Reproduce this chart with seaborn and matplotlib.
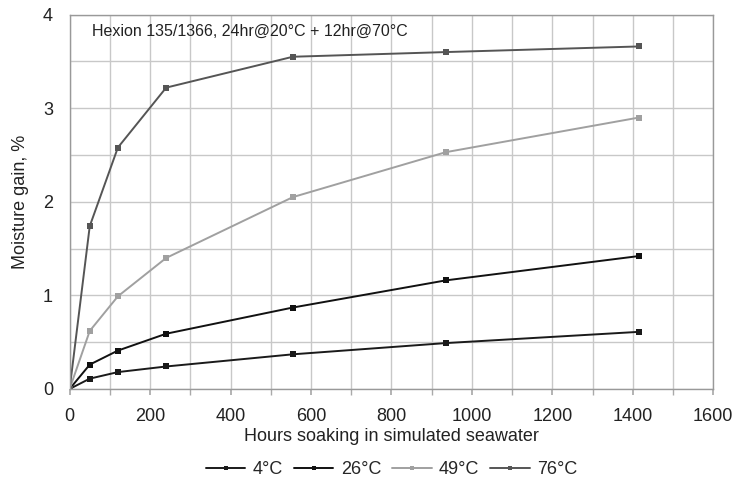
import matplotlib
matplotlib.use("Agg")
import matplotlib.pyplot as plt
import seaborn as sns
import pandas as pd
from matplotlib.ticker import MultipleLocator

hours = [0, 50, 120, 240, 555, 935, 1415]
series_names = ["4°C", "26°C", "49°C", "76°C"]
gain_4 = [0, 0.11, 0.18, 0.24, 0.37, 0.49, 0.61]
gain_26 = [0, 0.26, 0.41, 0.59, 0.87, 1.16, 1.42]
gain_49 = [0, 0.62, 0.99, 1.40, 2.05, 2.53, 2.90]
gain_76 = [0, 1.74, 2.58, 3.22, 3.55, 3.60, 3.66]
x_ticks = [0, 200, 400, 600, 800, 1000, 1200, 1400, 1600]
y_ticks = [0, 1, 2, 3, 4]

rows = []
for name, vals in zip(series_names, [gain_4, gain_26, gain_49, gain_76]):
    for h, v in zip(hours, vals):
        rows.append({"Hours": h, "Gain": v, "Series": name})
df = pd.DataFrame(rows)

sns.set_theme(style="white")
plt.rcParams['font.family'] = ['Liberation Sans', 'DejaVu Sans']

fig, ax = plt.subplots(figsize=(7.33, 4.88), dpi=100)
fig.subplots_adjust(left=0.095, right=0.973, top=0.97, bottom=0.203)

palette = {"4°C": "#1a1a1a", "26°C": "#111111", "49°C": "#a0a0a0", "76°C": "#555555"}
sns.lineplot(data=df, x="Hours", y="Gain", hue="Series", palette=palette,
             marker="s", markersize=4, markeredgewidth=0, linewidth=1.4,
             ax=ax, legend=True)

ax.set_xlim(0, 1600)
ax.set_ylim(0, 4)
ax.set_xticks(x_ticks)
ax.set_yticks(y_ticks)
ax.xaxis.set_minor_locator(MultipleLocator(100))
ax.yaxis.set_minor_locator(MultipleLocator(0.5))
ax.grid(True, which="both", color="#c8c8c8", linewidth=1.0)
ax.set_axisbelow(True)
for s in ax.spines.values():
    s.set_color("#999999")
    s.set_linewidth(1.0)
ax.tick_params(axis="both", which="both", labelsize=13, colors="#222222")
ax.tick_params(axis="x", which="both", direction="out", length=4, color="#aaaaaa", bottom=True, pad=10)
ax.tick_params(axis="y", which="both", length=0, pad=12)
ax.set_xlabel("Hours soaking in simulated seawater", fontsize=13, labelpad=2, color="#222222")
ax.set_ylabel("Moisture gain, %", fontsize=13, labelpad=10, color="#222222")

ax.text(55, 3.82, "Hexion 135/1366, 24hr@20°C + 12hr@70°C", fontsize=11.5, color="#222222", va="center")

ax.legend(loc="upper center", bbox_to_anchor=(0.5, -0.15), ncol=4, frameon=False,
          fontsize=13, handlelength=2.2, columnspacing=0.6, handletextpad=0.4, title=None,
          markerscale=0.8)

fig.savefig("out.png", dpi=100, facecolor="white")
